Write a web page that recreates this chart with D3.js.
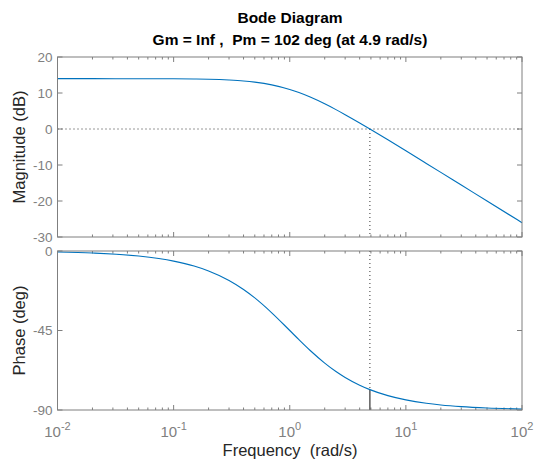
<!DOCTYPE html>
<html>
<head>
<meta charset="utf-8">
<script src="https://cdn.jsdelivr.net/npm/d3@7"></script>
<style>
  body { margin: 0; background: #fff; }
  text { font-family: "Liberation Sans", Arial, sans-serif; }
</style>
</head>
<body>
<script>
// frequency points (rad/s) and values
var freq  = [0.01, 0.02, 0.05, 0.1, 0.15, 0.2, 0.3, 0.4, 0.5, 0.7, 1, 1.2, 1.5, 2, 2.5, 3, 4, 4.9, 7, 10, 15, 20, 30, 50, 100];
var magDb = [13.98, 13.98, 13.97, 13.94, 13.88, 13.81, 13.60, 13.34, 13.01, 12.25, 10.97, 10.11, 8.86, 6.99, 5.38, 3.98, 1.68, 0.0, -3.01, -6.06, -9.56, -12.05, -15.57, -20.0, -26.02];
var phaseDeg = [-0.57, -1.15, -2.86, -5.71, -8.53, -11.31, -16.70, -21.80, -26.57, -34.99, -45, -50.19, -56.31, -63.43, -68.20, -71.57, -75.96, -78.47, -81.87, -84.29, -86.19, -87.14, -88.09, -88.85, -89.43];
var magTicks = [20, 10, 0, -10, -20, -30];
var phaseTicks = [0, -45, -90];
var xDecades = [-2, -1, 0, 1, 2];
var wc = 4.9, phaseAtWc = -78.47;

var width = 535, height = 465;
var left = 57.5, right = 522;
var svg = d3.select("body").append("svg").attr("width", width).attr("height", height);

var x = d3.scaleLog().domain([0.01, 100]).range([left, right]);
var yMag = d3.scaleLinear().domain([-30, 20]).range([237, 57]);
var yPh = d3.scaleLinear().domain([-90, 0]).range([410, 251]);

var axisCol = "#7f7f7f", tickTxt = "#808080", lineCol = "#0072bd";

var minors = [];
for (var d = -2; d < 2; d++) for (var k = 2; k <= 9; k++) minors.push(k * Math.pow(10, d));

function panel(y, yt) {
  var g = svg.append("g");
  var y0 = y.range()[0], y1 = y.range()[1];
  // x ticks top & bottom
  xDecades.forEach(function(e) {
    var px = x(Math.pow(10, e));
    g.append("line").attr("x1", px).attr("x2", px).attr("y1", y0).attr("y2", y0 - 5).attr("stroke", axisCol);
    g.append("line").attr("x1", px).attr("x2", px).attr("y1", y1).attr("y2", y1 + 5).attr("stroke", axisCol);
  });
  minors.forEach(function(m) {
    var px = x(m);
    g.append("line").attr("x1", px).attr("x2", px).attr("y1", y0).attr("y2", y0 - 2.5).attr("stroke", axisCol);
    g.append("line").attr("x1", px).attr("x2", px).attr("y1", y1).attr("y2", y1 + 2.5).attr("stroke", axisCol);
  });
  yt.forEach(function(t) {
    var py = y(t);
    g.append("line").attr("x1", left).attr("x2", left + 5).attr("y1", py).attr("y2", py).attr("stroke", axisCol);
    g.append("line").attr("x1", right).attr("x2", right - 5).attr("y1", py).attr("y2", py).attr("stroke", axisCol);
    g.append("text").attr("x", left - 5).attr("y", py).attr("dy", "0.35em")
      .attr("text-anchor", "end").attr("font-size", 13.5).attr("fill", tickTxt).text(t);
  });
  return g;
}

function box(y) {
  svg.append("rect").attr("x", left).attr("y", y.range()[1])
    .attr("width", right - left).attr("height", y.range()[0] - y.range()[1])
    .attr("fill", "none").attr("stroke", axisCol);
}

panel(yMag, magTicks);
panel(yPh, phaseTicks);

// margin markers
svg.append("line").attr("x1", left).attr("x2", right).attr("y1", yMag(0)).attr("y2", yMag(0))
  .attr("stroke", "#333").attr("stroke-dasharray", "1,3");
svg.append("line").attr("x1", x(wc)).attr("x2", x(wc)).attr("y1", yMag(0)).attr("y2", yMag(-30))
  .attr("stroke", "#333").attr("stroke-dasharray", "1,3");
svg.append("line").attr("x1", x(wc)).attr("x2", x(wc)).attr("y1", yPh(0)).attr("y2", yPh(phaseAtWc))
  .attr("stroke", "#333").attr("stroke-dasharray", "1,3");
svg.append("line").attr("x1", x(wc)).attr("x2", x(wc)).attr("y1", yPh(phaseAtWc)).attr("y2", yPh(-90))
  .attr("stroke", "#333").attr("stroke-width", 1.2);

var magLine = d3.line().x(function(d, i) { return x(freq[i]); }).y(function(d) { return yMag(d); }).curve(d3.curveMonotoneX);
var phLine = d3.line().x(function(d, i) { return x(freq[i]); }).y(function(d) { return yPh(d); }).curve(d3.curveMonotoneX);

svg.append("path").attr("d", magLine(magDb)).attr("fill", "none").attr("stroke", lineCol).attr("stroke-width", 1.1);
svg.append("path").attr("d", phLine(phaseDeg)).attr("fill", "none").attr("stroke", lineCol).attr("stroke-width", 1.1);

box(yMag);
box(yPh);

// x tick labels 10^n
xDecades.forEach(function(e) {
  var t = svg.append("text").attr("x", x(Math.pow(10, e))).attr("y", 437)
    .attr("text-anchor", "middle").attr("font-size", 15).attr("fill", tickTxt);
  t.append("tspan").text("10");
  t.append("tspan").attr("dy", -7).attr("font-size", 11).text(e);
});

// titles & labels
svg.append("text").attr("x", 290).attr("y", 23).attr("text-anchor", "middle")
  .attr("font-size", 15.5).attr("font-weight", "bold").attr("fill", "#000").text("Bode Diagram");
svg.append("text").attr("x", 290).attr("y", 45).attr("text-anchor", "middle")
  .attr("font-size", 15.5).attr("font-weight", "bold").attr("fill", "#000").attr("xml:space", "preserve")
  .text("Gm = Inf ,  Pm = 102 deg (at 4.9 rad/s)");
svg.append("text").attr("transform", "translate(25," + ((57 + 237) / 2) + ") rotate(-90)")
  .attr("text-anchor", "middle").attr("font-size", 16.5).attr("fill", "#262626").text("Magnitude (dB)");
svg.append("text").attr("transform", "translate(25," + ((251 + 410) / 2) + ") rotate(-90)")
  .attr("text-anchor", "middle").attr("font-size", 16.5).attr("fill", "#262626").text("Phase (deg)");
svg.append("text").attr("x", 290).attr("y", 456).attr("text-anchor", "middle")
  .attr("font-size", 16.5).attr("fill", "#262626").attr("xml:space", "preserve").text("Frequency  (rad/s)");
</script>
</body>
</html>
